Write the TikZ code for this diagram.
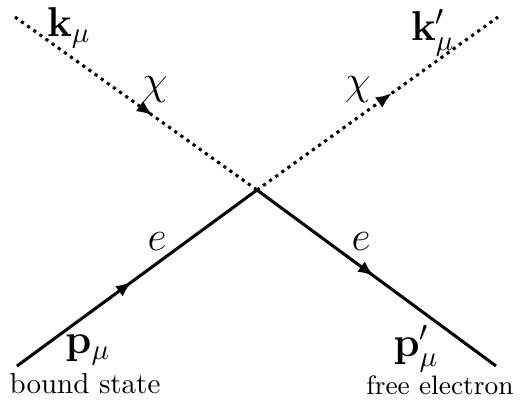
\documentclass[tikz,border=0pt]{standalone}
\usetikzlibrary{arrows.meta,decorations.markings}
\begin{document}
\begin{tikzpicture}[x=0.345pt,y=-0.345pt,
  fermion/.style={line width=1.05pt,postaction={decorate},
    decoration={markings,mark=at position #1 with {\arrow{Latex[length=5.5pt,width=4.4pt]}}}},
  dark/.style={line width=1.05pt,dash pattern=on 1.1pt off 1.5pt,postaction={decorate},
    decoration={markings,mark=at position #1 with {\arrow{Latex[length=5.5pt,width=4.4pt]}}}},
  lbl/.style={inner sep=0pt,font=\Large},
  txt/.style={inner sep=0pt}]
\useasboundingbox (0,0) rectangle (531,405);
\coordinate (v) at (257,190);
\coordinate (a) at (15,17);
\coordinate (b) at (498,17);
\coordinate (c) at (17,366);
\coordinate (d) at (496,366);
\draw[dark=0.57] (a) -- (v);
\draw[dark=0.56] (v) -- (b);
\draw[fermion=0.48] (c) -- (v);
\draw[fermion=0.49] (v) -- (d);
\node[lbl] (k) at (69,28) {$\mathbf{k}_\mu$};
\node[lbl] (kp) at (433,33) {$\mathbf{k}'_\mu$};
\node[lbl] (chi1) at (155,90) {$\chi$};
\node[lbl] (chi2) at (358,90) {$\chi$};
\node[lbl] (e1) at (157,242) {$e$};
\node[lbl] (e2) at (361,242) {$e$};
\node[lbl] (p) at (88,350) {$\mathbf{p}_\mu$};
\node[lbl] (pp) at (416,349) {$\mathbf{p}'_\mu$};
\node[txt] (bs) at (85,384) {bound state};
\node[txt,font=\fontsize{9.2}{11}\selectfont] (fe) at (440,385) {free electron};
\end{tikzpicture}
\end{document}
